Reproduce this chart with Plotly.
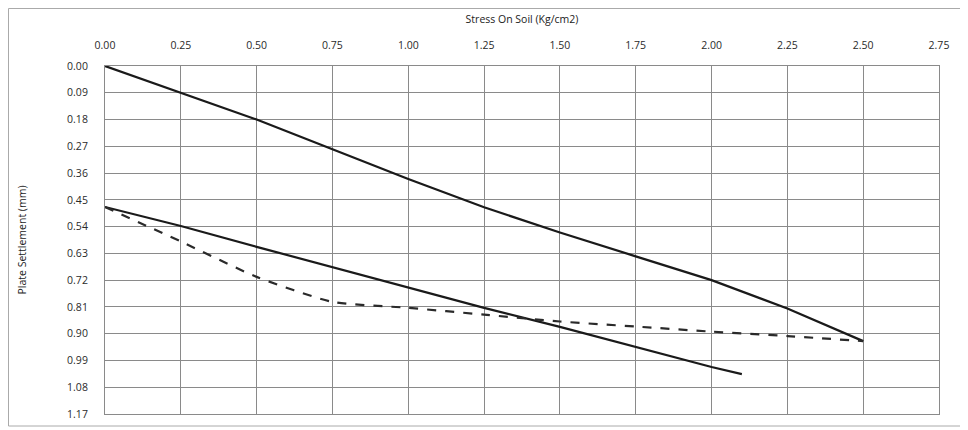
import plotly.graph_objects as go

stress_a = [0.0, 0.25, 0.5, 0.75, 1.0, 1.25, 1.5, 1.75, 2.0, 2.25, 2.5]
settle_a = [0.0, 0.09, 0.18, 0.28, 0.38, 0.475, 0.56, 0.64, 0.72, 0.815, 0.925]

stress_b = [0.0, 0.25, 0.5, 0.75, 1.0, 1.25, 1.5, 1.75, 2.0, 2.1]
settle_b = [0.474, 0.538, 0.608, 0.676, 0.743, 0.813, 0.877, 0.945, 1.012, 1.036]

stress_c = [0.0, 0.25, 0.5, 0.75, 1.0, 1.25, 1.5, 1.75, 2.0, 2.25, 2.5]
settle_c = [0.474, 0.59, 0.709, 0.793, 0.813, 0.836, 0.859, 0.876, 0.893, 0.908, 0.925]

y_ticks = [0.00, 0.09, 0.18, 0.27, 0.36, 0.45, 0.54, 0.63, 0.72, 0.81, 0.90, 0.99, 1.08, 1.17]
x_ticks = [0.0, 0.25, 0.5, 0.75, 1.0, 1.25, 1.5, 1.75, 2.0, 2.25, 2.5, 2.75]

fig = go.Figure()
fig.add_trace(go.Scatter(x=stress_a, y=settle_a, mode="lines",
                         line=dict(color="#1a1a1a", width=2.2), showlegend=False))
fig.add_trace(go.Scatter(x=stress_b, y=settle_b, mode="lines",
                         line=dict(color="#1a1a1a", width=2.2), showlegend=False))
fig.add_trace(go.Scatter(x=stress_c, y=settle_c, mode="lines",
                         line=dict(color="#2a2a2a", width=2.2, dash="dash", shape="spline", smoothing=0.6),
                         showlegend=False))

tickfont = dict(family="Open Sans, Arial, sans-serif", size=10.5, color="#2a2a2a")

L, T, R, B = 97, 58, 37, 24
PW, PH = 968 - L - R, 430 - T - B

fig.update_layout(
    width=968, height=430,
    margin=dict(l=L, r=R, t=T, b=B),
    paper_bgcolor="white", plot_bgcolor="white",
    font=dict(family="Open Sans, Arial, sans-serif", size=10.5, color="#2a2a2a"),
    xaxis=dict(
        range=[0, 2.75], tickvals=x_ticks, tickformat=".2f", side="top", automargin=False,
        showgrid=True, gridcolor="#8a8a8a", gridwidth=1,
        zeroline=False, showline=True, linecolor="#8a8a8a", mirror=True,
        ticks="outside", ticklen=12, tickcolor="rgba(0,0,0,0)", tickfont=tickfont,
        title=dict(text="Stress On Soil (Kg/cm2)", font=dict(size=10.5, color="#222"), standoff=12),
    ),
    yaxis=dict(
        range=[1.17, 0], tickvals=y_ticks, tickformat=".2f", automargin=False,
        showgrid=True, gridcolor="#8a8a8a", gridwidth=1,
        zeroline=False, showline=True, linecolor="#8a8a8a", mirror=True,
        ticks="outside", ticklen=14, tickcolor="rgba(0,0,0,0)", tickfont=tickfont,
        title=dict(text="Plate Settlement (mm)", font=dict(size=10.5, color="#222"), standoff=38),
    ),
    shapes=[dict(type="rect", xref="paper", yref="paper",
                 x0=-(L - 0.5) / PW, x1=1 + 25 / PW, y0=-12 / PH, y1=1 + (T - 0.5) / PH,
                 line=dict(color="#aaaaaa", width=1))],
)

fig.write_html("out.html")
